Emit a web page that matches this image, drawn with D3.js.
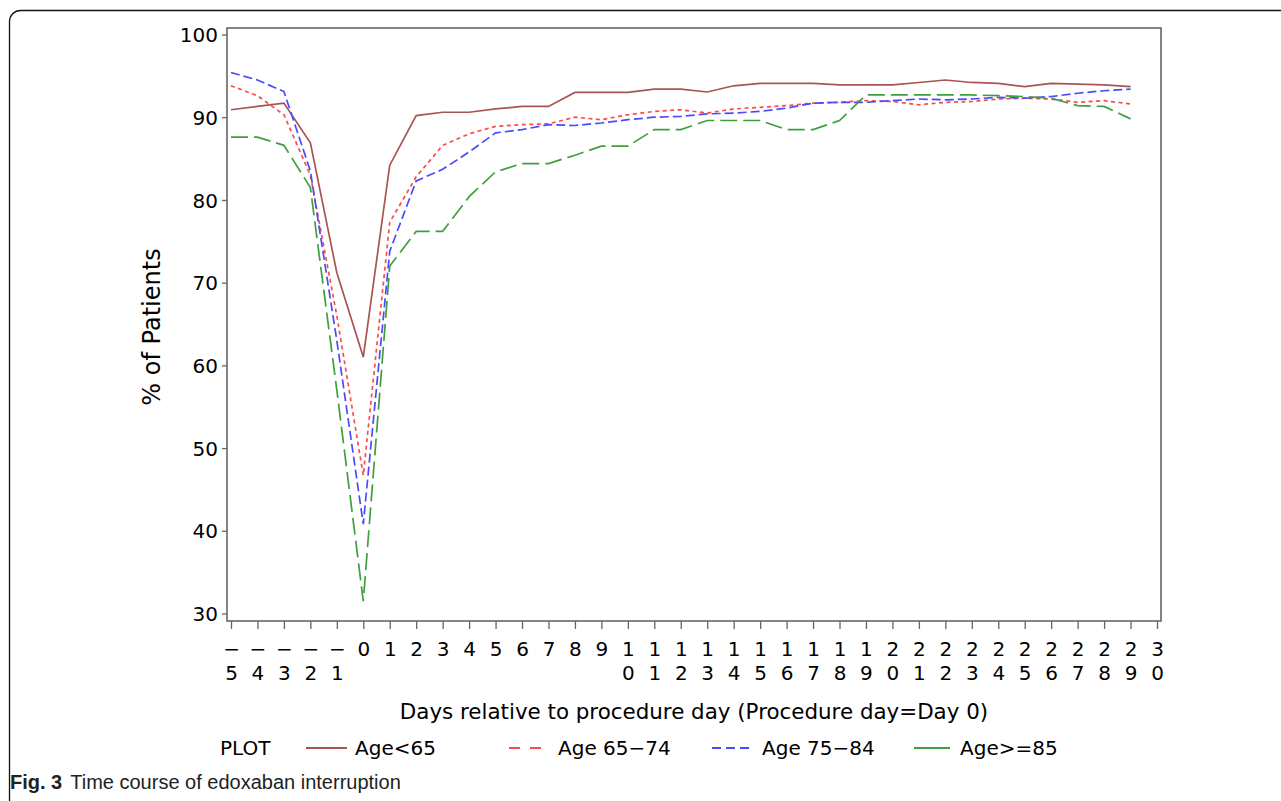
<!DOCTYPE html>
<html>
<head>
<meta charset="utf-8">
<script src="https://cdn.jsdelivr.net/npm/d3@7"></script>
<style>
  html, body { margin: 0; padding: 0; background: #fff; }
  svg { display: block; }
  .tick text, .lbl { font-family: "DejaVu Sans", Verdana, sans-serif; fill: #000; }
</style>
</head>
<body>
<svg id="chart" width="1281" height="801"></svg>
<script>
"use strict";

/* ── Data ─────────────────────────────────────────────────── */
const DAYS = [-5,-4,-3,-2,-1,0,1,2,3,4,5,6,7,8,9,10,11,12,13,14,15,16,17,18,19,20,21,22,23,24,25,26,27,28,29];

const AGE_LT65 = [90.9,91.3,91.7,86.9,71.2,61.0,84.2,90.2,90.6,90.6,91.0,91.3,91.3,93.0,93.0,93.0,93.4,93.4,93.05,93.8,94.1,94.1,94.1,93.9,93.9,93.9,94.2,94.5,94.2,94.1,93.7,94.1,94.0,93.9,93.7];
const AGE_65_74 = [93.8,92.6,90.3,83.0,66.0,46.7,77.3,82.8,86.6,88.0,88.9,89.1,89.2,90.0,89.7,90.3,90.7,90.9,90.5,91.0,91.2,91.4,91.7,91.8,92.0,91.9,91.5,91.8,91.9,92.2,92.3,92.2,91.8,92.0,91.6];
const AGE_75_84 = [95.4,94.5,93.1,83.5,63.0,40.8,73.8,82.3,83.7,85.8,88.1,88.5,89.1,89.0,89.3,89.7,90.0,90.1,90.4,90.5,90.7,91.1,91.7,91.8,91.8,92.0,92.2,92.1,92.2,92.4,92.3,92.5,92.9,93.2,93.4];
const AGE_GE85 = [87.6,87.6,86.6,81.5,57.0,31.5,72.0,76.2,76.2,80.4,83.4,84.4,84.4,85.4,86.5,86.5,88.5,88.5,89.6,89.6,89.6,88.5,88.5,89.6,92.7,92.7,92.7,92.7,92.7,92.6,92.5,92.3,91.4,91.3,89.8];

const SERIES_NAMES = ["Age<65", "Age 65\u221274", "Age 75\u221284", "Age>=85"];
const SERIES_VALUES = [AGE_LT65, AGE_65_74, AGE_75_84, AGE_GE85];
const Y_TICKS = [30, 40, 50, 60, 70, 80, 90, 100];
const X_TICKS = d3.range(-5, 31);

(function () {
  /* ── Styles per series ─────────────────────────────────── */
  const COLORS = ["#a85454", "#ff4a4a", "#4a4aff", "#3f9f3f"];
  const DASHES = [null, "4,3.5", "9,4", "17,6"];

  /* ── Layout ────────────────────────────────────────────── */
  const FRAME = { left: 227, top: 28, right: 1161, bottom: 621 };

  const svg = d3.select("#chart");

  /* outer figure border (rounded, runs off the page) */
  svg.append("rect")
    .attr("x", 9.5).attr("y", 10.5)
    .attr("width", 1300).attr("height", 820)
    .attr("rx", 11)
    .attr("fill", "none").attr("stroke", "#111").attr("stroke-width", 1.3);

  const x = d3.scaleLinear().domain([-5, 30]).range([231, 1157]);
  const y = d3.scaleLinear().domain([30, 100]).range([613.5, 34.5]);

  /* plot frame */
  svg.append("rect")
    .attr("x", FRAME.left).attr("y", FRAME.top)
    .attr("width", FRAME.right - FRAME.left)
    .attr("height", FRAME.bottom - FRAME.top)
    .attr("fill", "none").attr("stroke", "#666").attr("stroke-width", 1.6);

  /* Y axis */
  const yAxis = svg.append("g")
    .attr("transform", `translate(${FRAME.left},0)`)
    .call(d3.axisLeft(y).tickValues(Y_TICKS).tickSize(5).tickSizeOuter(0).tickPadding(4));
  yAxis.select(".domain").remove();
  yAxis.selectAll(".tick line").attr("stroke", "#666").attr("stroke-width", 1.3);
  yAxis.selectAll(".tick text").attr("font-size", 20).attr("dy", "0.36em");

  /* X axis — labels are split character by character onto two rows */
  const xAxis = svg.append("g")
    .attr("transform", `translate(0,${FRAME.bottom})`)
    .call(d3.axisBottom(x).tickValues(X_TICKS).tickSize(8).tickSizeOuter(0).tickFormat(""));
  xAxis.select(".domain").remove();
  xAxis.selectAll(".tick line").attr("stroke", "#666").attr("stroke-width", 1.3);
  xAxis.selectAll(".tick").each(function (d) {
    const chars = d < 0 ? ["\u2212", String(-d)] : String(d).split("");
    const t = d3.select(this).append("text")
      .attr("class", "lbl")
      .attr("text-anchor", "middle")
      .attr("font-size", 20);
    chars.forEach((c, i) => {
      t.append("tspan").attr("x", 0).attr("y", 35 + i * 23.5).text(c);
    });
  });

  /* Axis titles */
  svg.append("text").attr("class", "lbl")
    .attr("x", 694).attr("y", 719)
    .attr("text-anchor", "middle")
    .attr("font-size", 21.4)
    .text("Days relative to procedure day (Procedure day=Day 0)");

  svg.append("text").attr("class", "lbl")
    .attr("transform", "translate(160,327) rotate(-90)")
    .attr("text-anchor", "middle")
    .attr("font-size", 24)
    .text("% of Patients");

  /* Lines */
  const line = d3.line()
    .x((d) => x(d[0]))
    .y((d) => y(d[1]));

  SERIES_VALUES.forEach((vals, i) => {
    svg.append("path")
      .datum(DAYS.map((day, k) => [day, vals[k]]))
      .attr("d", line)
      .attr("fill", "none")
      .attr("stroke", COLORS[i])
      .attr("stroke-width", 1.7)
      .attr("stroke-dasharray", DASHES[i]);
  });

  /* Legend */
  const LEG_Y = 748;
  svg.append("text").attr("class", "lbl")
    .attr("x", 220).attr("y", LEG_Y).attr("dy", "0.36em")
    .attr("font-size", 20).text("PLOT");

  const legendItems = [
    { x1: 306, x2: 347, tx: 355 },
    { x1: 509, x2: 541, tx: 558 },
    { x1: 712, x2: 750, tx: 762 },
    { x1: 914, x2: 950, tx: 960 }
  ];
  legendItems.forEach((it, i) => {
    svg.append("line")
      .attr("x1", it.x1).attr("x2", it.x2)
      .attr("y1", LEG_Y).attr("y2", LEG_Y)
      .attr("stroke", COLORS[i]).attr("stroke-width", 1.8)
      .attr("stroke-dasharray", i === 1 ? "11,10" : i === 2 ? "9,5" : null);
    svg.append("text").attr("class", "lbl")
      .attr("x", it.tx).attr("y", LEG_Y).attr("dy", "0.36em")
      .attr("font-size", 20).text(SERIES_NAMES[i]);
  });

  /* Caption */
  const cap = svg.append("text")
    .attr("x", 10).attr("y", 789)
    .attr("font-family", "'Liberation Sans Narrow', 'Liberation Sans', Arial, sans-serif")
    .attr("font-size", 20).attr("fill", "#222");
  cap.append("tspan").attr("font-weight", "bold").text("Fig. 3");
  cap.append("tspan").attr("dx", 8).text("Time course of edoxaban interruption");
})();
</script>
</body>
</html>
